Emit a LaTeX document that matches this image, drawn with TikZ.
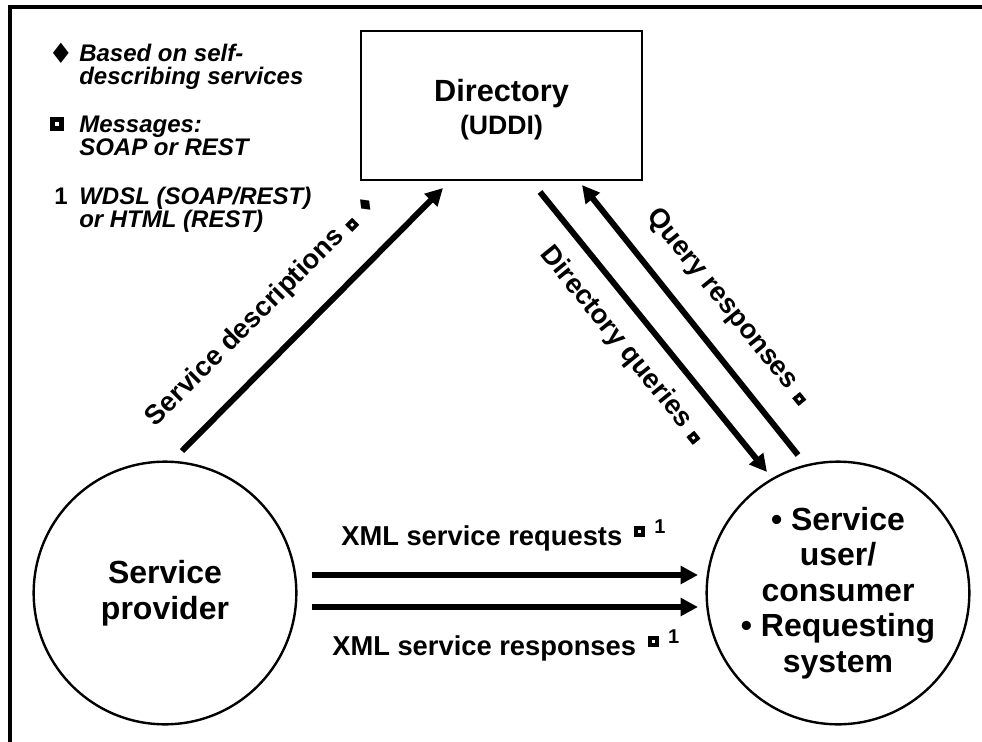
\documentclass[tikz,border=0pt]{standalone}
\usepackage{fontspec}
\setmainfont{Liberation Sans}
\newfontfamily\symfont{DejaVu Sans}
\usetikzlibrary{arrows.meta}

% black square with a small hole in it: #1 = rim, #2 = hole
\newcommand{\msgmark}[2]{{\setlength{\fboxrule}{#1}\setlength{\fboxsep}{0pt}\fbox{\rule{0pt}{#2}\rule{#2}{0pt}}}}
% raised marks after the request / response labels
\newcommand{\msgsup}{\raisebox{9pt}{\fontsize{15}{15}\selectfont\msgmark{2.7pt}{2.6pt}\hspace{7pt}1}}

\tikzset{
  flow/.style={line width=4.5pt, -{Triangle[length=13pt,width=13pt]}},
  party/.style={circle, draw, line width=1.8pt, minimum size=197pt, inner sep=-12pt,
    align=center, font=\bfseries\fontsize{24}{26.6}\selectfont},
  dirbox/.style={rectangle, draw, line width=1.8pt, minimum width=210.5pt, minimum height=111.5pt,
    align=center, font=\bfseries\fontsize{23}{27}\selectfont},
  flowlabel/.style={inner sep=0pt, font=\bfseries\fontsize{20.5}{24}\selectfont},
  legendtext/.style={inner sep=0pt, anchor=west, align=left, font=\bfseries\itshape\fontsize{18}{17.5}\selectfont},
  sign/.style={inner sep=0pt}
}

\begin{document}
\begin{tikzpicture}[x=0.75pt, y=-0.75pt]
\useasboundingbox (0,0) rectangle (982,742);

% frame, only top and left edges show
\draw[line width=3pt] (10,742) -- (10,7) -- (982,7);

% legend
\node[sign] (m1) at (61,53) {\symfont\fontsize{21}{21}\selectfont ♦};
\node[legendtext] (n1) at (79,67) {Based on self-\\describing services};
\node[sign] (m2) at (57,124) {\msgmark{3.4pt}{3.6pt}};
\node[legendtext] (n2) at (79,136) {Messages:\\SOAP or REST};
\node[sign] (m3) at (61,196) {\bfseries\fontsize{18}{18}\selectfont 1};
\node[legendtext] (n3) at (79,210) {WDSL (SOAP/REST)\\or HTML (REST)};

% the three parties
\node[dirbox] (dir) at (501.5,105.5) {\rule{0pt}{23pt}Directory\\[-2pt]{\fontsize{20}{24}\selectfont (UDDI)}};
\node[party] (prov) at (165,593) {Service\\provider};
\node[party] (cons) at (838,593) {\textbullet\ Service\\user/\\consumer\\\textbullet\ Requesting\\system};

% arrow ends
\coordinate (sd1) at (182,451);
\coordinate (sd2) at (443,188);
\coordinate (dq1) at (540,192);
\coordinate (dq2) at (767,472);
\coordinate (qr1) at (798,455);
\coordinate (qr2) at (582,185);
\coordinate (rq1) at (312,575);
\coordinate (rq2) at (698,575);
\coordinate (rs1) at (312,607);
\coordinate (rs2) at (698,607);

\draw[flow] (sd1) -- (sd2);
\draw[flow] (dq1) -- (dq2);
\draw[flow] (qr1) -- (qr2);
\draw[flow] (rq1) -- (rq2);
\draw[flow] (rs1) -- (rs2);

% labels
\node[flowlabel, rotate=45] (sdlbl) at (262,311)
  {Service descriptions\hspace{7pt}\raisebox{2pt}{\msgmark{2.6pt}{2.3pt}}\hspace{7pt}\raisebox{1pt}{\symfont\fontsize{15}{15}\selectfont ♦}};
\node[flowlabel, rotate=-51] (dqlbl) at (622,345)
  {Directory queries\hspace{7pt}\raisebox{2pt}{\msgmark{2.6pt}{2.3pt}}};
\node[flowlabel, rotate=-51] (qrlbl) at (728,307)
  {Query responses\hspace{7pt}\raisebox{2pt}{\msgmark{2.6pt}{2.3pt}}};
\node[flowlabel, anchor=base west] (rqlbl) at (341,545) {XML service requests\hspace{9pt}\msgsup};
\node[flowlabel, anchor=base west] (rslbl) at (332,655) {XML service responses\hspace{9pt}\msgsup};
\end{tikzpicture}
\end{document}
